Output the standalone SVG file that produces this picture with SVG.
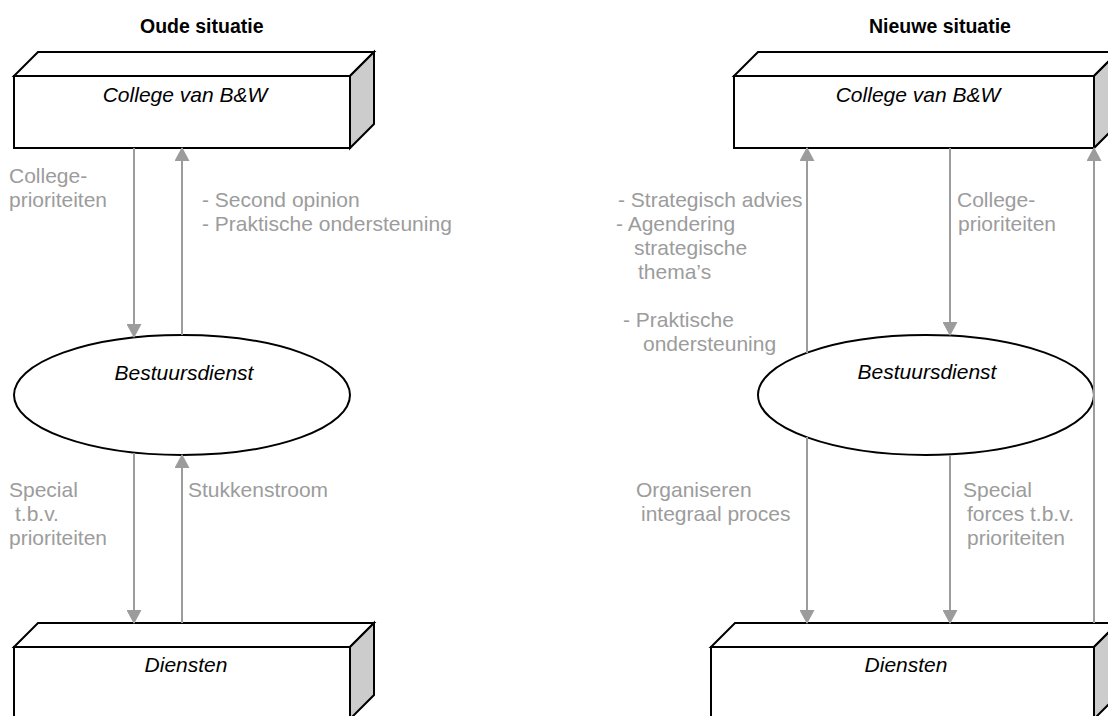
<svg xmlns="http://www.w3.org/2000/svg" width="1108" height="716" viewBox="0 0 1108 716">
  <style>
    .face { fill: #ffffff; stroke: #000000; stroke-width: 2; stroke-linejoin: miter; }
    .side { fill: #cccccc; stroke: #000000; stroke-width: 2; }
    .title { font-family: "Liberation Sans", Arial, sans-serif; font-size: 19.5px; font-weight: bold; fill: #000000; }
    .node-label { font-family: "Liberation Sans", Arial, sans-serif; font-size: 21px; font-style: italic; fill: #000000; text-anchor: middle; }
    .label { font-family: "Liberation Sans", Arial, sans-serif; font-size: 21px; fill: #9c9c9c; }
    .conn { stroke: #9c9c9c; stroke-width: 2; fill: none; }
  </style>
  <defs>
    <marker id="ah" viewBox="0 0 14 15" refX="13" refY="7.5" markerWidth="14" markerHeight="15" orient="auto" markerUnits="userSpaceOnUse">
      <path d="M0,0 L14,7.5 L0,15 Z" fill="#9c9c9c"/>
    </marker>
  </defs>

  <rect width="1108" height="716" fill="#ffffff"/>

  <!-- headings -->
  <text class="title" x="140" y="33">Oude situatie</text>
  <text class="title" x="869" y="33">Nieuwe situatie</text>

  <!-- left column: old situation -->
  <g id="old-college">
    <polygon class="face" points="14,76 38,52 374,52 350,76"/>
    <polygon class="side" points="350,76 374,52 374,124 350,148"/>
    <rect class="face" x="14" y="76" width="336" height="72"/>
    <text class="node-label" x="185" y="102">College van B&amp;W</text>
  </g>
  <g id="old-bestuursdienst">
    <ellipse class="face" cx="182" cy="395" rx="168" ry="60"/>
    <text class="node-label" x="184" y="380">Bestuursdienst</text>
  </g>
  <g id="old-diensten">
    <polygon class="face" points="14,647 38,623 374,623 350,647"/>
    <polygon class="side" points="350,647 374,623 374,695 350,719"/>
    <rect class="face" x="14" y="647" width="336" height="72"/>
    <text class="node-label" x="186" y="672">Diensten</text>
  </g>

  <!-- right column: new situation -->
  <g id="new-college">
    <polygon class="face" points="734,76 758,52 1118,52 1094,76"/>
    <polygon class="side" points="1094,76 1118,52 1118,124 1094,148"/>
    <rect class="face" x="734" y="76" width="360" height="72"/>
    <text class="node-label" x="918" y="102">College van B&amp;W</text>
  </g>
  <g id="new-bestuursdienst">
    <ellipse class="face" cx="926" cy="395" rx="168" ry="60"/>
    <text class="node-label" x="927" y="379">Bestuursdienst</text>
  </g>
  <g id="new-diensten">
    <polygon class="face" points="711,647 735,623 1118,623 1094,647"/>
    <polygon class="side" points="1094,647 1118,623 1118,695 1094,719"/>
    <rect class="face" x="711" y="647" width="383" height="72"/>
    <text class="node-label" x="906" y="672">Diensten</text>
  </g>

  <!-- connectors -->
  <g id="connectors">
    <line class="conn" x1="134" y1="148" x2="134" y2="337" marker-end="url(#ah)"/>
    <line class="conn" x1="182" y1="335" x2="182" y2="148" marker-end="url(#ah)"/>
    <line class="conn" x1="134" y1="453" x2="134" y2="623" marker-end="url(#ah)"/>
    <line class="conn" x1="182" y1="623" x2="182" y2="455" marker-end="url(#ah)"/>

    <line class="conn" x1="807" y1="353" x2="807" y2="148" marker-end="url(#ah)"/>
    <line class="conn" x1="807" y1="437" x2="807" y2="623" marker-end="url(#ah)"/>
    <line class="conn" x1="950" y1="148" x2="950" y2="335" marker-end="url(#ah)"/>
    <line class="conn" x1="950" y1="455" x2="950" y2="623" marker-end="url(#ah)"/>
    <line class="conn" x1="1094" y1="623" x2="1094" y2="148" marker-end="url(#ah)"/>
  </g>

  <!-- connector labels, old situation -->
  <g id="old-labels">
    <text class="label" x="9" y="183">College-</text>
    <text class="label" x="9" y="207">prioriteiten</text>
    <text class="label" x="202" y="207">- Second opinion</text>
    <text class="label" x="202" y="231">- Praktische ondersteuning</text>
    <text class="label" x="9" y="497">Special</text>
    <text class="label" x="15" y="521">t.b.v.</text>
    <text class="label" x="9" y="545">prioriteiten</text>
    <text class="label" x="188" y="497">Stukkenstroom</text>
  </g>

  <!-- connector labels, new situation -->
  <g id="new-labels">
    <text class="label" x="618" y="207">- Strategisch advies</text>
    <text class="label" x="616" y="231">- Agendering</text>
    <text class="label" x="634" y="255">strategische</text>
    <text class="label" x="638" y="279">thema’s</text>
    <text class="label" x="623" y="327">- Praktische</text>
    <text class="label" x="643" y="351">ondersteuning</text>
    <text class="label" x="957" y="207">College-</text>
    <text class="label" x="958" y="231">prioriteiten</text>
    <text class="label" x="636" y="497">Organiseren</text>
    <text class="label" x="641" y="521">integraal proces</text>
    <text class="label" x="963" y="497">Special</text>
    <text class="label" x="967" y="521">forces t.b.v.</text>
    <text class="label" x="967" y="545">prioriteiten</text>
  </g>
</svg>
